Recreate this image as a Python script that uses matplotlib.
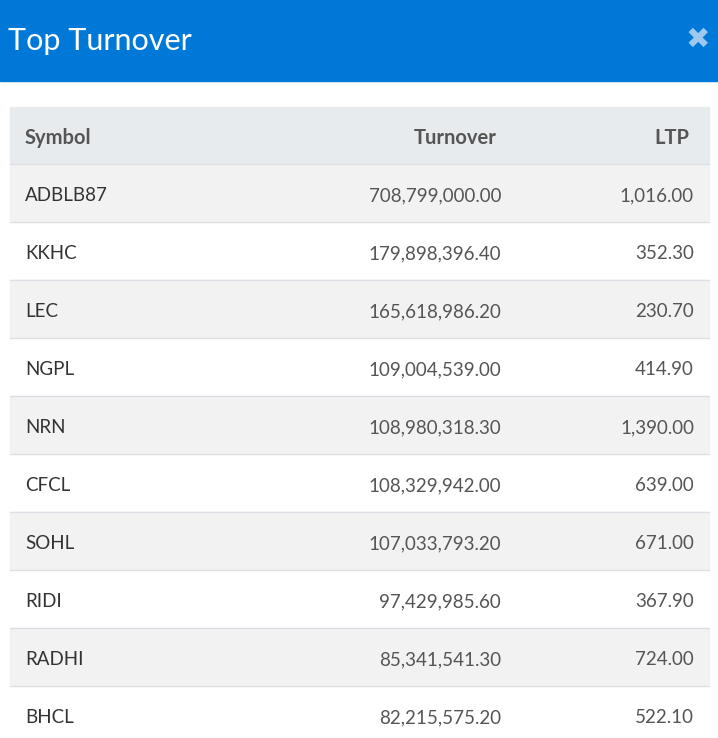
import matplotlib
matplotlib.use("Agg")
import matplotlib.pyplot as plt
from matplotlib.patches import Rectangle

plt.rcParams['font.family'] = ['Lato', 'DejaVu Sans']

# table data
symbols = ["ADBLB87", "KKHC", "LEC", "NGPL", "NRN", "CFCL", "SOHL", "RIDI", "RADHI", "BHCL"]
turnover = [708799000.00, 179898396.40, 165618986.20, 109004539.00, 108980318.30,
            108329942.00, 107033793.20, 97429985.60, 85341541.30, 82215575.20]
ltp = [1016.00, 352.30, 230.70, 414.90, 1390.00, 639.00, 671.00, 367.90, 724.00, 522.10]
columns = ["Symbol", "Turnover", "LTP"]

W, H = 718, 738
fig = plt.figure(figsize=(W / 100, H / 100), dpi=100)
ax = fig.add_axes([0, 0, 1, 1])
ax.set_xlim(0, W)
ax.set_ylim(H, 0)
ax.axis('off')

# title bar
ax.add_patch(Rectangle((0, 0), W, 81, color="#0078d7", zorder=1))
ax.text(8, 41, "Top Turnover", color="white", fontsize=22, va="center", ha="left")
ax.text(698, 40, "\u2716", color="#9fc8ef", fontsize=21, va="center", ha="center",
        family=['DejaVu Sans'])

left, right = 10, 709
top = 107
head_h = 57
row_h = 58
x_sym, x_turn, x_ltp = 25, 501, 694
dy = 2.5  # nudge text down to sit centred like the reference

# header row
ax.add_patch(Rectangle((left, top), right - left, head_h, color="#e8ebee", zorder=1))
hy = top + head_h / 2 + dy
ax.text(x_sym, hy, columns[0], fontsize=14.5, fontweight="bold", color="#555555", va="center")
ax.text(x_turn - 4, hy, columns[1], fontsize=14.5, fontweight="bold", color="#555555",
        va="center", ha="right")
ax.text(x_ltp - 5, hy, columns[2], fontsize=14.5, fontweight="bold", color="#555555",
        va="center", ha="right")

for i, (s, t, l) in enumerate(zip(symbols, turnover, ltp)):
    y0 = top + head_h + i * row_h
    bg = "#f2f2f2" if i % 2 == 0 else "#ffffff"
    ax.add_patch(Rectangle((left, y0), right - left, row_h, color=bg, zorder=1))
    ax.plot([left, right], [y0, y0], color="#dcdfe3", lw=1, zorder=2)
    cy = y0 + row_h / 2 + dy
    ax.text(x_sym, cy, s, fontsize=13.5, color="#333333", va="center")
    ax.text(x_turn, cy, f"{t:,.2f}", fontsize=13.5, color="#555555", va="center", ha="right")
    ax.text(x_ltp, cy, f"{l:,.2f}", fontsize=13.5, color="#555555", va="center", ha="right")

fig.savefig("out.png", dpi=100)
